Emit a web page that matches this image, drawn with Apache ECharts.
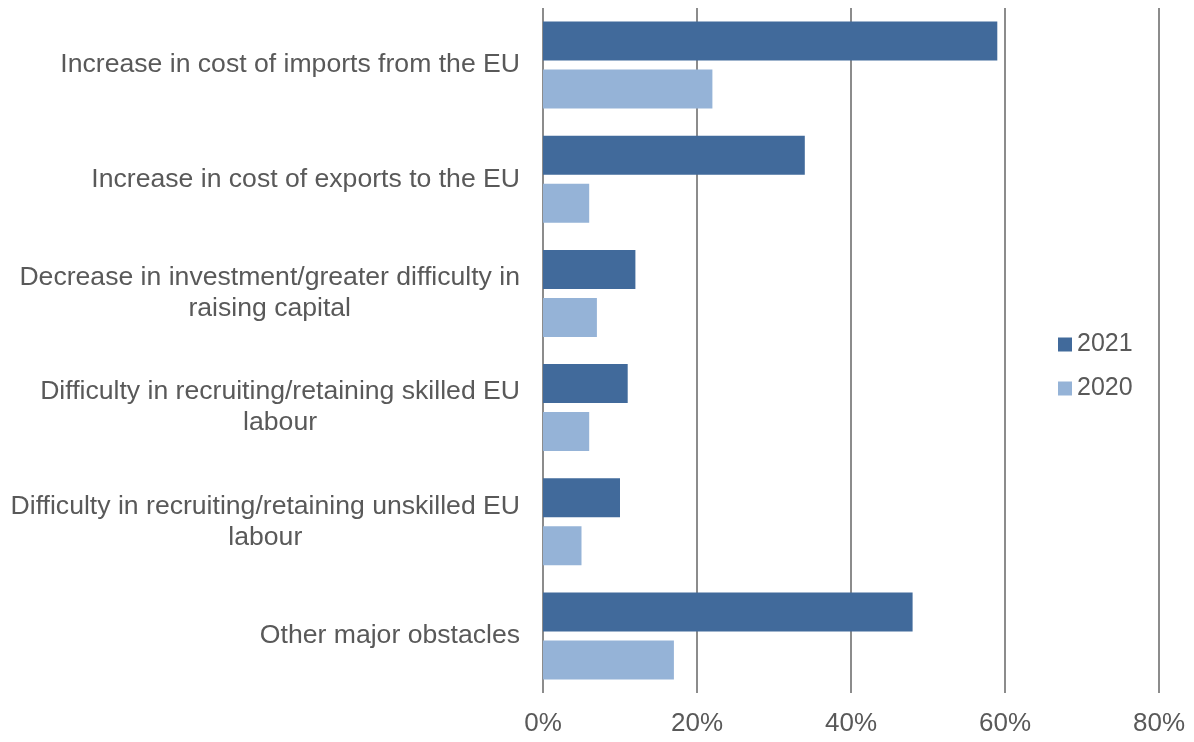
<!DOCTYPE html>
<html>
<head>
<meta charset="utf-8">
<title>Obstacles</title>
<script src="https://cdn.jsdelivr.net/npm/echarts@6/dist/echarts.min.js"></script>
<style>
  html, body { margin: 0; padding: 0; background: #fff; }
  #chart { width: 1194px; height: 742px; }
</style>
</head>
<body>
<div id="chart"></div>
<script>
// Categories (top to bottom), pre-wrapped as they are shown
const categories = [
  'Increase in cost of imports from the EU',
  'Increase in cost of exports to the EU',
  'Decrease in investment/greater difficulty in\nraising capital',
  'Difficulty in recruiting/retaining skilled EU\nlabour',
  'Difficulty in recruiting/retaining unskilled EU\nlabour',
  'Other major obstacles'
];
// Share of businesses (%)
const values2021 = [59, 34, 12, 11, 10, 48];
const values2020 = [22, 6, 7, 6, 5, 17];
const seriesNames = ['2021', '2020'];
const xTicks = [0, 20, 40, 60, 80];

const textColor = '#595959';
const fontFamily = '"Liberation Sans", Arial, sans-serif';

const chart = echarts.init(document.getElementById('chart'));
chart.setOption({
  animation: false,
  textStyle: { fontFamily: fontFamily },
  grid: { left: 543, right: 35, top: 8, bottom: 49, containLabel: false },
  legend: {
    orient: 'vertical',
    left: 1053,
    top: 327,
    itemWidth: 14,
    itemHeight: 14,
    itemGap: 19,
    icon: 'rect',
    data: seriesNames,
    textStyle: { color: textColor, fontSize: 25, fontFamily: fontFamily }
  },
  xAxis: {
    type: 'value',
    min: xTicks[0],
    max: xTicks[xTicks.length - 1],
    interval: 20,
    axisLine: { show: false },
    axisTick: { show: false },
    splitLine: { show: true, lineStyle: { color: '#8c8c8c', width: 2 } },
    axisLabel: {
      formatter: '{value}%',
      color: textColor,
      fontSize: 26,
      fontFamily: fontFamily,
      margin: 18
    }
  },
  yAxis: {
    type: 'category',
    inverse: true,
    data: categories,
    axisLine: { show: false },
    axisTick: { show: false },
    axisLabel: {
      margin: 23,
      color: textColor,
      fontSize: 26.6,
      formatter: function (v) {
        return v.split('\n').map(function (l) { return '{c|' + l + '}'; }).join('\n');
      },
      rich: {
        c: { align: 'center', color: textColor, fontSize: 26.6, lineHeight: 31, fontFamily: fontFamily }
      }
    }
  },
  series: [
    {
      name: seriesNames[0],
      type: 'bar',
      data: values2021,
      barWidth: 39,
      barGap: '23%',
      itemStyle: { color: '#416a9b' }
    },
    {
      name: seriesNames[1],
      type: 'bar',
      data: values2020,
      barWidth: 39,
      barGap: '23%',
      itemStyle: { color: '#95b3d7' }
    }
  ]
});
</script>
</body>
</html>
